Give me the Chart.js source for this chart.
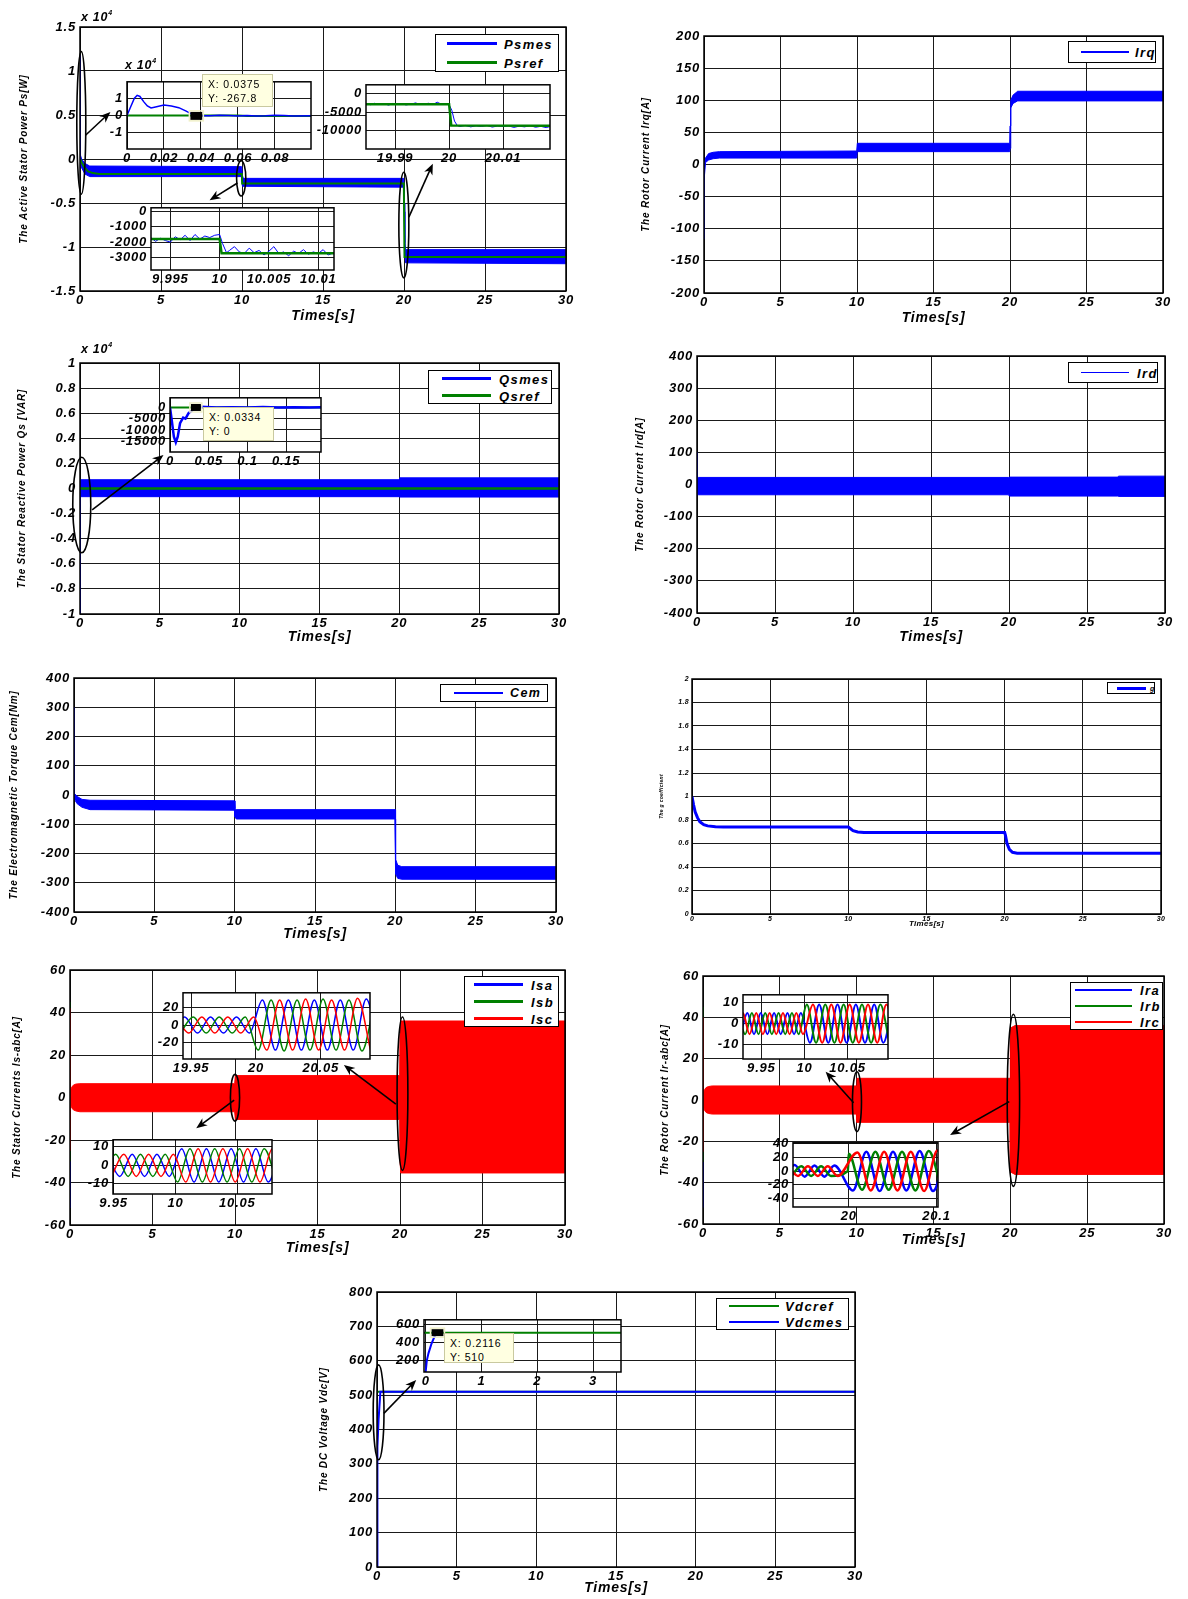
<!DOCTYPE html>
<html><head><meta charset="utf-8">
<script src="https://cdn.jsdelivr.net/npm/chart.js@4.4.1/dist/chart.umd.min.js"></script>
<style>
html,body{margin:0;padding:0;background:#fff}
body{width:1188px;height:1599px;position:relative;overflow:hidden;font-family:'Liberation Sans',Arial,sans-serif}
canvas{position:absolute}
.lg{position:absolute;box-sizing:border-box;border:1.5px solid #000;background:#fff;z-index:3}
.tip{position:absolute;box-sizing:border-box;background:#ffffe1;border:1px solid #c9c9a0;z-index:4;font:10.5px 'Liberation Sans',Arial,sans-serif;letter-spacing:0.8px;line-height:14px;padding:2px 5px;color:#000;white-space:nowrap}
.sc{position:absolute;z-index:4;font:italic bold 12.5px 'Liberation Sans',Arial,sans-serif;letter-spacing:0.7px;white-space:nowrap;color:#000}
.sc sup{font-size:7px;vertical-align:6px}
</style></head><body>
<script>
// ---------------- DATA ----------------
const timeTicks = [0,5,10,15,20,25,30];

// Chart 1 : active stator power (x 10^4 W)
const psTicksY = [-1.5,-1,-0.5,0,0.5,1,1.5];
const psBandT  = [0,0.005,0.012,0.02,0.04,0.1,0.3,0.6,9.98,10.02,10.05,19.98,20.01,20.05,20.1,30];
const psBandHi = [0,1.18,0.6,0.25,0.05,0.0,-0.05,-0.08,-0.087,-0.2,-0.22,-0.22,-0.5,-0.95,-1.03,-1.03];
const psBandLo = [0,-0.01,-0.02,-0.03,-0.05,-0.1,-0.17,-0.2,-0.2,-0.3,-0.31,-0.32,-0.6,-1.1,-1.18,-1.19];
const psRefT = [0,0.1,0.25,0.5,0.8,1.2,9.99,10.01,19.99,20.03,30];
const psRefV = [0,-0.04,-0.09,-0.14,-0.16,-0.17,-0.17,-0.277,-0.277,-1.114,-1.114];
// inset A (0..0.1 s, x 10^4)
const psInA_T = [0,0.002,0.004,0.0055,0.007,0.009,0.011,0.013,0.016,0.02,0.024,0.028,0.032,0.0355,0.0375,0.045,0.05,0.055,0.06,0.065,0.07,0.075,0.08,0.085,0.09,0.0995];
const psInA_V = [0,0.5,1.0,1.16,1.1,0.8,0.55,0.43,0.5,0.6,0.55,0.45,0.25,0.05,-0.027,-0.02,0.01,0.0,-0.03,-0.01,-0.03,-0.02,0.01,-0.01,-0.03,-0.02];
const psInA_RefT = [0,0.06,0.065,0.0995];
const psInA_RefV = [0,0,-0.03,-0.03];
const psInA_TicksX = [0,0.02,0.04,0.06,0.08];
const psInA_TicksY = [-1,0,1];
// inset B (around 20 s, W)
const psInB_T = [19.9846,19.9855,19.9862,19.987,19.988,19.9888,19.9895,19.9905,19.9913,19.992,19.993,19.9938,19.9945,19.9955,19.9962,19.997,19.9978,19.9985,19.9992,20.0,20.0005,20.001,20.0015,20.002,20.003,20.004,20.005,20.006,20.007,20.008,20.009,20.01,20.011,20.012,20.013,20.014,20.015,20.016,20.017,20.018,20.0187];
const psInB_V = [-2700,-3000,-2600,-2900,-2750,-3100,-2650,-2900,-2700,-3050,-2800,-2500,-2900,-2750,-2600,-2950,-2300,-2800,-2700,-3000,-4500,-7500,-8700,-9000,-8700,-9100,-8800,-9000,-8700,-9150,-8850,-9000,-8800,-9250,-8900,-9100,-8700,-9200,-8950,-9300,-9000];
const psInB_RefT = [19.9846,20.0,20.0004,20.0187];
const psInB_RefV = [-2850,-2850,-8700,-8800];
const psInB_TicksX = [19.99,20,20.01];
const psInB_TicksY = [-10000,-5000,0];
// inset C (around 10 s, W)
const psInC_T = [9.993,9.9935,9.994,9.9945,9.995,9.9955,9.996,9.9965,9.997,9.9975,9.998,9.9985,9.999,9.9995,10.0,10.0003,10.0007,10.001,10.0015,10.002,10.0025,10.003,10.0035,10.004,10.0045,10.005,10.0055,10.006,10.0065,10.007,10.0075,10.008,10.0085,10.009,10.0095,10.01,10.0105,10.011,10.0116];
const psInC_V = [-1700,-1950,-1750,-1900,-2000,-1650,-1850,-1550,-1900,-1500,-1800,-1600,-1700,-1550,-1500,-2100,-2700,-2550,-2300,-2650,-2750,-2400,-2700,-2550,-2850,-2600,-2300,-2750,-2650,-2900,-2600,-2750,-2500,-2800,-2650,-2750,-2500,-2850,-2700];
const psInC_RefT = [9.993,10.0,10.0002,10.0116];
const psInC_RefV = [-1800,-1800,-2740,-2740];
const psInC_TicksX = [9.995,10,10.005,10.01];
const psInC_TicksY = [-3000,-2000,-1000,0];

// Chart 2 : Irq
const irqTicksY = [-200,-150,-100,-50,0,50,100,150,200];
const irqBandT  = [0,0.01,0.03,0.1,0.3,0.6,1,9.98,10.02,19.98,20.0,20.05,20.2,20.5,30];
const irqBandHi = [-110,-60,0,10,17,19,20,21,33,33,60,100,108,114,114];
const irqBandLo = [-116,-100,-20,3,7,9,10,10,20,20,25,88,95,99,99];

// Chart 3 : Qs (x 10^4 VAR)
const qsTicksY = [-1,-0.8,-0.6,-0.4,-0.2,0,0.2,0.4,0.6,0.8,1];
const qsBandT  = [0,0.008,0.015,0.025,0.04,19.98,20.02,30];
const qsBandHi = [0,-0.9,-0.4,0.0,0.07,0.07,0.085,0.085];
const qsBandLo = [0,-1.5,-0.8,-0.2,-0.065,-0.065,-0.068,-0.068];
const qsRefT = [0,30];
const qsRefV = [0,0];
const qsInT = [0,0.002,0.005,0.0075,0.01,0.013,0.017,0.02,0.024,0.028,0.033,0.04,0.06,0.08,0.1,0.12,0.14,0.16,0.18,0.195];
const qsInV = [0,-5000,-13000,-15500,-13000,-7000,-4500,-5000,-2500,-1500,0,300,0,100,0,200,0,150,0,100];
const qsInRefT = [0,0.195];
const qsInRefV = [0,0];
const qsInTicksX = [0,0.05,0.1,0.15];
const qsInTicksY = [-15000,-10000,-5000,0];

// Chart 4 : Ird
const irdTicksY = [-400,-300,-200,-100,0,100,200,300,400];
const irdBandT  = [0,0.005,0.02,0.1,19.98,20.02,26.98,27.02,30];
const irdBandHi = [100,60,22,22,22,23,23,26,26];
const irdBandLo = [0,-20,-32,-32,-32,-36,-36,-37,-37];

// Chart 5 : Cem
const cemTicksY = [-400,-300,-200,-100,0,100,200,300,400];
const cemBandT  = [0,0.005,0.02,0.05,0.2,0.5,1,9.98,10.02,10.1,19.98,20.0,20.03,20.15,20.4,30];
const cemBandHi = [0,300,50,5,-5,-15,-18,-20,-45,-50,-50,-120,-220,-240,-245,-245];
const cemBandLo = [0,0,-5,-15,-30,-42,-50,-52,-75,-82,-82,-200,-270,-285,-288,-288];

// Chart 6 : g
const gTicksY = [0,0.2,0.4,0.6,0.8,1,1.2,1.4,1.6,1.8,2];
const gT = [0,0.1,0.2,0.35,0.5,0.75,1,1.5,2,10,10.1,10.3,10.6,11,20,20.05,20.15,20.3,20.5,20.8,21.5,30];
const gV = [1,0.93,0.87,0.82,0.785,0.76,0.75,0.742,0.74,0.74,0.73,0.71,0.698,0.694,0.694,0.67,0.6,0.55,0.525,0.518,0.516,0.516];

// Chart 7 : stator currents
const isTicksY = [-60,-40,-20,0,20,40,60];
const isBandT  = [0,0.03,0.1,0.2,0.35,0.6,9.98,10.02,19.98,20.0,20.05,30];
const isBandHi = [0.5,3,4.8,5.8,6.3,6.5,6.5,10.3,10.3,30,36,36];
const isBandLo = [-0.5,-3,-4.8,-5.8,-6.3,-6.7,-6.7,-10.3,-10.3,-30,-35.5,-35.5];
const isSpikeA = [[0,0],[0.004,-52],[0.01,20],[0.02,0]];
const isSpikeB = [[0,0],[0.006,45],[0.012,-30],[0.02,0]];
const isSpikeC = [[0,0],[0.005,42],[0.01,-25],[0.02,0]];
const isZ20A = [[19.935,-9],[19.945,9],[19.955,-9],[19.965,9],[19.975,-9],[19.985,9],[19.995,-9],[20.005,28],[20.015,-28],[20.025,28],[20.035,-28],[20.045,28],[20.055,-28],[20.065,28],[20.075,-28],[20.085,29],[20.095,-28]];
const isZ20B = [[19.9417,-9],[19.9517,9],[19.9617,-9],[19.9717,9],[19.9817,-9],[19.9917,9],[20.0017,-28],[20.0117,28],[20.0217,-29],[20.0317,28],[20.0417,-28],[20.0517,29],[20.0617,-28],[20.0717,28],[20.0817,-29],[20.0917,28]];
const isZ20C = [[19.9383,9],[19.9483,-9],[19.9583,9],[19.9683,-9],[19.9783,9],[19.9883,-9],[19.9983,9],[20.0083,-28],[20.0183,28],[20.0283,-28],[20.0383,29],[20.0483,-28],[20.0583,28],[20.0683,-28],[20.0783,30],[20.0883,-28]];
const isZ20TicksX = [19.95,20,20.05];
const isZ20TicksY = [-20,0,20];
const isZ10A = [[9.945,6],[9.955,-6],[9.965,6],[9.975,-6],[9.985,6],[9.995,-6],[10.005,9],[10.015,-9],[10.025,9],[10.035,-9],[10.045,9],[10.055,-9],[10.065,9],[10.075,-9],[10.085,9]];
const isZ10B = [[9.9417,-6],[9.9517,6],[9.9617,-6],[9.9717,6],[9.9817,-6],[9.9917,6],[10.0017,-9],[10.0117,9],[10.0217,-9],[10.0317,9],[10.0417,-9],[10.0517,9],[10.0617,-9],[10.0717,9],[10.0817,-9]];
const isZ10C = [[9.9483,-6],[9.9583,6],[9.9683,-6],[9.9783,6],[9.9883,-6],[9.9983,6],[10.0083,-9],[10.0183,9],[10.0283,-9],[10.0383,9],[10.0483,-9],[10.0583,9],[10.0683,-9],[10.0783,9],[10.0883,-9]];
const isZ10TicksX = [9.95,10,10.05];
const isZ10TicksY = [-10,0,10];

// Chart 8 : rotor currents
const irTicksY = [-60,-40,-20,0,20,40,60];
const irBandT  = [0,0.03,0.1,0.2,0.35,0.6,9.98,10.02,19.98,20.0,20.05,20.3,30];
const irBandHi = [0.5,3,5,6,6.5,6.8,6.8,10.5,10.5,30,35,36,36];
const irBandLo = [-0.5,-3,-5,-6,-6.5,-6.8,-6.8,-10.8,-10.8,-33,-35,-36,-36];
const irSpikeA = [[0,0],[0.004,-52],[0.01,20],[0.02,0]];
const irSpikeB = [[0,0],[0.006,45],[0.012,-30],[0.02,0]];
const irSpikeC = [[0,0],[0.005,40],[0.01,-25],[0.02,0]];
const irZ10A = [[9.926,-5],[9.9338,5],[9.9415,-5],[9.9493,5],[9.957,-5],[9.9648,5],[9.9725,-5],[9.9803,5],[9.988,-5],[9.9958,5],[10.0064,-9],[10.0171,9],[10.0277,-9],[10.0384,9],[10.049,-9],[10.0597,9],[10.0703,-9],[10.081,9],[10.0916,-9],[10.1023,9]];
const irZ10B = [[9.9235,5],[9.9312,-5],[9.939,5],[9.9467,-5],[9.9545,5],[9.9622,-5],[9.97,5],[9.9777,-5],[9.9855,5],[9.9932,-5],[10.0028,9],[10.0135,-9],[10.0242,9],[10.0348,-9],[10.0455,9],[10.0561,-9],[10.0668,9],[10.0774,-9],[10.0881,9],[10.0987,-9]];
const irZ10C = [[9.9209,-5],[9.9286,5],[9.9363,-5],[9.9441,5],[9.9518,-5],[9.9596,5],[9.9673,-5],[9.9751,5],[9.9828,-5],[9.9906,5],[9.9983,-5],[10.0099,9],[10.0206,-9],[10.0312,9],[10.0419,-9],[10.0525,9],[10.0632,-9],[10.0738,9],[10.0845,-9],[10.0951,9],[10.1058,-9]];
const irZ10TicksX = [9.95,10,10.05];
const irZ10TicksY = [-10,0,10];
const irZ20A = [[19.9271,-8],[19.9384,9],[19.9497,-8],[19.961,8],[19.9723,-8],[19.9836,8],[20.0049,-28],[20.0201,28],[20.0353,-29],[20.0505,28],[20.0657,-28],[20.0809,29],[20.0961,-29],[20.1113,28]];
const irZ20B = [[19.9346,-7],[19.9459,7],[19.9572,-7],[19.9685,7],[19.9798,-7],[19.999,0],[20.0,25],[20.0152,-27],[20.0304,28],[20.0456,-27],[20.0608,28],[20.076,-28],[20.0912,29],[20.1064,-28]];
const irZ20C = [[19.9309,7],[19.9422,-7],[19.9535,7],[19.9648,-7],[19.9761,7],[19.9874,-7],[20.01,27],[20.0252,-28],[20.0404,28],[20.0556,-28],[20.0708,28],[20.086,-29],[20.1012,30],[20.1164,-28]];
const irZ20TicksX = [20,20.1];
const irZ20TicksY = [-40,-20,0,20,40];

// Chart 9 : DC voltage
const vdcTicksY = [0,100,200,300,400,500,600,700,800];
const vdcMesT = [0,0.001,0.05,0.1,0.2116,30];
const vdcMesV = [0,300,350,430,510,510];
const vdcRefT = [0,30];
const vdcRefV = [510,510];
const vdcInMesT = [0,0.02,0.05,0.1,0.16,0.2116];
const vdcInMesV = [75,200,280,380,470,510];
const vdcInRefT = [-0.03,3.5];
const vdcInRefV = [510,510];
const vdcInTicksX = [0,1,2,3];
const vdcInTicksY = [200,400,600];

// ---------------- HELPERS ----------------
const FONT = "'Liberation Sans', Arial, Helvetica, sans-serif";
const F = (s, w) => ({family: FONT, size: s, style: 'italic', weight: w || 'bold'});
const BLUE = '#0000ff', GREEN = '#008000', RED = '#ff0000';
const fmt = v => String(+Number(v).toFixed(6));
const xy = (t, v) => t.map((x, i) => ({x, y: v[i]}));
const pts = a => a.map(p => ({x: p[0], y: p[1]}));

function line(data, color, w, smooth) {
  return {data, borderColor: color, backgroundColor: color, borderWidth: w, fill: false, pointRadius: 0,
    cubicInterpolationMode: smooth ? 'monotone' : 'default', tension: 0};
}
function band(t, hi, lo, color) {
  return [
    {data: xy(t, hi), borderColor: color, backgroundColor: color, borderWidth: 1, fill: '+1', pointRadius: 0},
    {data: xy(t, lo), borderColor: color, backgroundColor: color, borderWidth: 1, fill: false, pointRadius: 0}
  ];
}
function arrow(ctx, x1, y1, x2, y2) {
  const a = Math.atan2(y2 - y1, x2 - x1), L = 11, W = 4.5;
  ctx.beginPath(); ctx.moveTo(x1, y1); ctx.lineTo(x2 - Math.cos(a) * L * 0.6, y2 - Math.sin(a) * L * 0.6); ctx.stroke();
  ctx.beginPath(); ctx.moveTo(x2, y2);
  ctx.lineTo(x2 - L * Math.cos(a) + W * Math.sin(a), y2 - L * Math.sin(a) - W * Math.cos(a));
  ctx.lineTo(x2 - L * 0.7 * Math.cos(a), y2 - L * 0.7 * Math.sin(a));
  ctx.lineTo(x2 - L * Math.cos(a) - W * Math.sin(a), y2 - L * Math.sin(a) + W * Math.cos(a));
  ctx.closePath(); ctx.fill();
}
function framePlugin(cfg) {
  const ls = (cfg.ls || 0) + 'px';
  return {
    id: 'frame',
    beforeLayout(c) { c.ctx.letterSpacing = ls; },
    beforeDraw(c) {
      c.ctx.letterSpacing = ls;
      const a = c.chartArea, ctx = c.ctx;
      ctx.save(); ctx.fillStyle = '#fff'; ctx.fillRect(a.left, a.top, a.right - a.left, a.bottom - a.top); ctx.restore();
    },
    afterDraw(c) {
      const a = c.chartArea, ctx = c.ctx;
      ctx.save(); ctx.strokeStyle = '#000'; ctx.lineWidth = cfg.bw || 1.5;
      ctx.strokeRect(a.left, a.top, a.right - a.left, a.bottom - a.top); ctx.restore();
      const d = cfg.deco; if (!d) return;
      const X = v => c.scales.x.getPixelForValue(v), Y = v => c.scales.y.getPixelForValue(v);
      ctx.save(); ctx.strokeStyle = '#000'; ctx.fillStyle = '#000'; ctx.lineWidth = 1.6;
      (d.ellipses || []).forEach(e => {
        const cy = (Y(e.y1) + Y(e.y2)) / 2, ry = Math.abs(Y(e.y1) - Y(e.y2)) / 2;
        ctx.beginPath(); ctx.ellipse(X(e.x), cy, e.rx, ry, 0, 0, 2 * Math.PI); ctx.stroke();
      });
      (d.arrows || []).forEach(r => arrow(ctx, X(r.x1), Y(r.y1), X(r.x2), Y(r.y2)));
      (d.markers || []).forEach(m => {
        ctx.fillStyle = '#000'; ctx.fillRect(X(m.x) - m.w / 2, Y(m.y) - m.h / 2, m.w, m.h);
        ctx.strokeStyle = '#f0f0c8'; ctx.lineWidth = 1.5; ctx.strokeRect(X(m.x) - m.w / 2 - 1, Y(m.y) - m.h / 2 - 1, m.w + 2, m.h + 2);
      });
      ctx.restore();
    }
  };
}
function axis(o, horizontal, size) {
  return {
    type: 'linear', min: o.min, max: o.max,
    afterBuildTicks: s => { s.ticks = o.ticks.map(v => ({value: v})); },
    afterFit: s => { if (horizontal) s.height = size; else s.width = size; },
    grid: {color: o.grid || '#1a1a1a', lineWidth: 1, drawTicks: false},
    border: {display: false},
    ticks: {color: '#000', font: o.font, padding: o.pad, autoSkip: false, maxRotation: 0, minRotation: 0, callback: fmt},
    title: o.title ? {display: true, text: o.title, color: '#000', font: o.tfont, padding: 0} : {display: false}
  };
}
function mk(cfg) {
  const [l, t, r, b] = cfg.area, m = cfg.m;
  const W = r - l + m.L + m.R, H = b - t + m.T + m.B;
  const cv = document.createElement('canvas');
  cv.width = W; cv.height = H;
  cv.style.cssText = `left:${l - m.L}px;top:${t - m.T}px;width:${W}px;height:${H}px;z-index:${cfg.inset ? 2 : 1}`;
  document.body.appendChild(cv);
  return new Chart(cv, {
    type: 'line',
    data: {datasets: cfg.datasets},
    options: {
      responsive: false, animation: false, devicePixelRatio: 1, events: [],
      layout: {padding: {top: m.T, right: m.R, left: 0, bottom: 0}, autoPadding: false},
      plugins: {legend: {display: false}, tooltip: {enabled: false}, title: {display: false}},
      scales: {x: axis(cfg.x, true, m.B), y: axis(cfg.y, false, m.L)}
    },
    plugins: [framePlugin(cfg)]
  });
}
function legend(box, entries, o) {
  const [x, y, w, h] = box;
  const d = document.createElement('div'); d.className = 'lg';
  d.style.cssText = `left:${x}px;top:${y}px;width:${w}px;height:${h}px;`;
  entries.forEach((e, i) => {
    const cy = h * (i + 0.5) / entries.length - 1;
    const ln = document.createElement('div');
    ln.style.cssText = `position:absolute;left:${o.lx1 - x}px;width:${o.lx2 - o.lx1}px;top:${cy - e.w / 2}px;height:${e.w}px;background:${e.c}`;
    d.appendChild(ln);
    const tx = document.createElement('div'); tx.textContent = e.t;
    tx.style.cssText = `position:absolute;left:${o.tx - x}px;top:${cy}px;transform:translateY(-50%);font:italic bold ${o.fs}px ${FONT};letter-spacing:${o.ls}px;white-space:nowrap;line-height:1;color:#000`;
    d.appendChild(tx);
  });
  document.body.appendChild(d);
}
function tip(x, y, w, h, lines) {
  const d = document.createElement('div'); d.className = 'tip';
  d.style.cssText = `left:${x}px;top:${y}px;width:${w}px;height:${h}px;`;
  lines.forEach(s => { const p = document.createElement('div'); p.textContent = s; d.appendChild(p); });
  document.body.appendChild(d);
}
function scaleNote(x, y) {
  const d = document.createElement('div'); d.className = 'sc';
  d.style.left = x + 'px'; d.style.top = y + 'px';
  d.innerHTML = 'x 10<sup>4</sup>';
  document.body.appendChild(d);
}
const TT = 'Times[s]';
const insetM = {L: 66, T: 6, R: 20, B: 20};
const IF = F(13);
const TF = F(13);   // main tick font
const XT = F(14);   // x title font
const YT = F(10);   // y title font
const LS = 0.8;

// ---------------- CHART 1 ----------------
mk({area: [80, 27, 566, 291], m: {L: 62, T: 12, R: 14, B: 34}, ls: LS,
  x: {min: 0, max: 30, ticks: timeTicks, font: TF, pad: 2, title: TT, tfont: XT},
  y: {min: -1.5, max: 1.5, ticks: psTicksY, font: TF, pad: 4, title: 'The Active Stator Power Ps[W]', tfont: YT},
  datasets: [line(xy(psRefT, psRefV), GREEN, 2), ...band(psBandT, psBandHi, psBandLo, BLUE)],
  deco: {
    ellipses: [{x: 0.08, y1: 1.22, y2: -0.40, rx: 4.5}, {x: 9.95, y1: -0.02, y2: -0.42, rx: 4.6}, {x: 19.99, y1: -0.15, y2: -1.35, rx: 5}],
    arrows: [{x1: 0.34, y1: 0.27, x2: 1.88, y2: 0.534}, {x1: 9.72, y1: -0.273, x2: 8.0, y2: -0.47}, {x1: 20.3, y1: -0.66, x2: 21.78, y2: -0.053}]
  }
});
mk({area: [127, 76, 311, 149], m: insetM, ls: LS, inset: true,
  x: {min: 0, max: 0.0995, ticks: psInA_TicksX, font: IF, pad: 2},
  y: {min: -1.95, max: 1.95, ticks: psInA_TicksY, font: IF, pad: 4},
  datasets: [line(xy(psInA_T, psInA_V), BLUE, 1.5), line(xy(psInA_RefT, psInA_RefV), GREEN, 2)],
  deco: {markers: [{x: 0.0375, y: -0.0268, w: 12, h: 8}]}
});
mk({area: [366, 79, 550, 149], m: insetM, ls: LS, inset: true,
  x: {min: 19.9846, max: 20.0187, ticks: psInB_TicksX, font: IF, pad: 2},
  y: {min: -15200, max: 2500, ticks: psInB_TicksY, font: IF, pad: 4},
  datasets: [line(xy(psInB_RefT, psInB_RefV), GREEN, 2.5), line(xy(psInB_T, psInB_V), BLUE, 1)]
});
mk({area: [151, 202, 334, 270], m: insetM, ls: LS, inset: true,
  x: {min: 9.99304, max: 10.0116, ticks: psInC_TicksX, font: IF, pad: 2},
  y: {min: -3840, max: 260, ticks: psInC_TicksY, font: IF, pad: 4},
  datasets: [line(xy(psInC_RefT, psInC_RefV), GREEN, 2.5), line(xy(psInC_T, psInC_V), BLUE, 1)]
});
scaleNote(81, 9); scaleNote(125, 57);
tip(202, 74, 71, 33, ['X: 0.0375', 'Y: -267.8']);
legend([435, 34, 124, 38], [{t: 'Psmes', c: BLUE, w: 2.5}, {t: 'Psref', c: GREEN, w: 2.5}], {lx1: 446, lx2: 496, tx: 503, fs: 13, ls: 1.4});

// ---------------- CHART 2 ----------------
mk({area: [704, 36, 1163, 293], m: {L: 64, T: 12, R: 14, B: 34}, ls: LS,
  x: {min: 0, max: 30, ticks: timeTicks, font: TF, pad: 2, title: TT, tfont: XT},
  y: {min: -200, max: 200, ticks: irqTicksY, font: TF, pad: 4, title: 'The Rotor Current Irq[A]', tfont: YT},
  datasets: [...band(irqBandT, irqBandHi, irqBandLo, BLUE)]
});
legend([1068, 41, 88, 22], [{t: 'Irq', c: BLUE, w: 2.5}], {lx1: 1080, lx2: 1128, tx: 1134, fs: 13, ls: 1.4});

// ---------------- CHART 3 ----------------
mk({area: [80, 363, 559, 614], m: {L: 64, T: 12, R: 14, B: 32}, ls: LS,
  x: {min: 0, max: 30, ticks: timeTicks, font: TF, pad: 2, title: TT, tfont: XT},
  y: {min: -1, max: 1, ticks: qsTicksY, font: TF, pad: 4, title: 'The Stator Reactive Power Qs [VAR]', tfont: YT},
  datasets: [line(xy(qsRefT, qsRefV), GREEN, 2.5), ...band(qsBandT, qsBandHi, qsBandLo, BLUE)],
  deco: {ellipses: [{x: 0.11, y1: 0.249, y2: -0.512, rx: 9}], arrows: [{x1: 0.76, y1: -0.171, x2: 5.23, y2: 0.267}]}
});
mk({area: [170, 392, 321, 452], m: insetM, ls: LS, inset: true,
  x: {min: 0, max: 0.195, ticks: qsInTicksX, font: IF, pad: 2},
  y: {min: -19800, max: 4300, ticks: qsInTicksY, font: IF, pad: 4},
  datasets: [line(xy(qsInT, qsInV), BLUE, 2.5), line(xy(qsInRefT, qsInRefV), GREEN, 2)],
  deco: {markers: [{x: 0.0334, y: 0, w: 10, h: 7}]}
});
scaleNote(81, 341);
tip(203, 407, 71, 34, ['X: 0.0334', 'Y: 0']);
legend([428, 370, 124, 34], [{t: 'Qsmes', c: BLUE, w: 2.5}, {t: 'Qsref', c: GREEN, w: 2.5}], {lx1: 441, lx2: 490, tx: 498, fs: 13, ls: 1.4});

// ---------------- CHART 4 ----------------
mk({area: [697, 356, 1165, 613], m: {L: 63, T: 12, R: 14, B: 33}, ls: LS,
  x: {min: 0, max: 30, ticks: timeTicks, font: TF, pad: 2, title: TT, tfont: XT},
  y: {min: -400, max: 400, ticks: irdTicksY, font: TF, pad: 4, title: 'The Rotor Current Ird[A]', tfont: YT},
  datasets: [...band(irdBandT, irdBandHi, irdBandLo, BLUE)]
});
legend([1068, 362, 90, 21], [{t: 'Ird', c: BLUE, w: 1}], {lx1: 1080, lx2: 1128, tx: 1136, fs: 13, ls: 1.4});

// ---------------- CHART 5 ----------------
mk({area: [74, 678, 556, 912], m: {L: 66, T: 12, R: 14, B: 31}, ls: LS,
  x: {min: 0, max: 30, ticks: timeTicks, font: TF, pad: 2, title: TT, tfont: XT},
  y: {min: -400, max: 400, ticks: cemTicksY, font: TF, pad: 4, title: 'The Electromagnetic Torque Cem[Nm]', tfont: YT},
  datasets: [...band(cemBandT, cemBandHi, cemBandLo, BLUE)]
});
legend([440, 684, 108, 18], [{t: 'Cem', c: BLUE, w: 2.5}], {lx1: 453, lx2: 502, tx: 509, fs: 12.5, ls: 1.4});

// ---------------- CHART 6 ----------------
mk({area: [692, 679, 1161, 914], m: {L: 33, T: 10, R: 10, B: 15}, ls: 0.3,
  x: {min: 0, max: 30, ticks: timeTicks, font: F(7), pad: 1, title: TT, tfont: F(8)},
  y: {min: 0, max: 2, ticks: gTicksY, font: F(7), pad: 3, title: 'The g coefficient', tfont: F(5)},
  datasets: [line(xy(gT, gV), BLUE, 3)]
});
legend([1107, 682, 48, 12], [{t: 'g', c: BLUE, w: 3}], {lx1: 1116, lx2: 1145, tx: 1149, fs: 7, ls: 0.3});

// ---------------- CHART 7 ----------------
mk({area: [70, 970, 565, 1225], m: {L: 59, T: 12, R: 14, B: 32}, ls: LS,
  x: {min: 0, max: 30, ticks: timeTicks, font: TF, pad: 2, title: TT, tfont: XT},
  y: {min: -60, max: 60, ticks: isTicksY, font: TF, pad: 4, title: 'The Stator Currents Is-abc[A]', tfont: YT},
  datasets: [line(pts(isSpikeC), RED, 1.5), line(pts(isSpikeB), GREEN, 1.5), line(pts(isSpikeA), BLUE, 1.5), ...band(isBandT, isBandHi, isBandLo, RED)],
  deco: {
    ellipses: [{x: 10.0, y1: 10.9, y2: -11.1, rx: 4.6}, {x: 20.15, y1: 37.9, y2: -34.3, rx: 5.4}],
    arrows: [{x1: 9.95, y1: -1.2, x2: 7.65, y2: -14.5}, {x1: 19.75, y1: -3.1, x2: 16.6, y2: 15.3}]
  }
});
mk({area: [183, 987, 370, 1059], m: insetM, ls: LS, inset: true,
  x: {min: 19.9438, max: 20.0879, ticks: isZ20TicksX, font: IF, pad: 2},
  y: {min: -38, max: 36, ticks: isZ20TicksY, font: IF, pad: 4},
  datasets: [line(pts(isZ20C), RED, 1.5, true), line(pts(isZ20B), GREEN, 1.5, true), line(pts(isZ20A), BLUE, 1.5, true)]
});
mk({area: [113, 1134, 272, 1194], m: insetM, ls: LS, inset: true,
  x: {min: 9.9495, max: 10.078, ticks: isZ10TicksX, font: IF, pad: 2},
  y: {min: -15.5, max: 13.8, ticks: isZ10TicksY, font: IF, pad: 4},
  datasets: [line(pts(isZ10C), RED, 1.5, true), line(pts(isZ10B), GREEN, 1.5, true), line(pts(isZ10A), BLUE, 1.5, true)]
});
legend([464, 976, 95, 51], [{t: 'Isa', c: BLUE, w: 2.5}, {t: 'Isb', c: GREEN, w: 2.5}, {t: 'Isc', c: RED, w: 2.5}], {lx1: 473, lx2: 522, tx: 530, fs: 13, ls: 1.4});

// ---------------- CHART 8 ----------------
mk({area: [703, 976, 1164, 1224], m: {L: 44, T: 12, R: 14, B: 25}, ls: LS,
  x: {min: 0, max: 30, ticks: timeTicks, font: TF, pad: 2, title: TT, tfont: XT},
  y: {min: -60, max: 60, ticks: irTicksY, font: TF, pad: 4, title: 'The Rotor Current Ir-abc[A]', tfont: YT},
  datasets: [line(pts(irSpikeC), RED, 1.5), line(pts(irSpikeB), GREEN, 1.5), line(pts(irSpikeA), BLUE, 1.5), ...band(irBandT, irBandHi, irBandLo, RED)],
  deco: {
    ellipses: [{x: 10.02, y1: 13.7, y2: -15.3, rx: 4.5}, {x: 20.2, y1: 41.5, y2: -41.8, rx: 6.2}],
    arrows: [{x1: 9.8, y1: -1.3, x2: 7.98, y2: 13.7}, {x1: 19.93, y1: -0.8, x2: 16.08, y2: -16.9}]
  }
});
mk({area: [743, 989, 888, 1059], m: insetM, ls: LS, inset: true,
  x: {min: 9.9287, max: 10.097, ticks: irZ10TicksX, font: IF, pad: 2},
  y: {min: -16.7, max: 13.6, ticks: irZ10TicksY, font: IF, pad: 4},
  datasets: [line(pts(irZ10C), RED, 2, true), line(pts(irZ10B), GREEN, 2, true), line(pts(irZ10A), BLUE, 2, true)]
});
mk({area: [793, 1137, 938, 1207], m: insetM, ls: LS, inset: true,
  x: {min: 19.9365, max: 20.1018, ticks: irZ20TicksX, font: IF, pad: 2},
  y: {min: -52, max: 41, ticks: irZ20TicksY, font: IF, pad: 4},
  datasets: [line(pts(irZ20C), RED, 2.5, true), line(pts(irZ20B), GREEN, 2.5, true), line(pts(irZ20A), BLUE, 2.5, true)]
});
legend([1070, 982, 93, 48], [{t: 'Ira', c: BLUE, w: 2.5}, {t: 'Irb', c: GREEN, w: 2.5}, {t: 'Irc', c: RED, w: 2.5}], {lx1: 1074, lx2: 1131, tx: 1139, fs: 13, ls: 1.4});

// ---------------- CHART 9 ----------------
mk({area: [377, 1292, 855, 1567], m: {L: 59, T: 12, R: 14, B: 30}, ls: LS,
  x: {min: 0, max: 30, ticks: timeTicks, font: TF, pad: 2, title: TT, tfont: XT},
  y: {min: 0, max: 800, ticks: vdcTicksY, font: TF, pad: 4, title: 'The DC Voltage Vdc[V]', tfont: YT},
  datasets: [line(xy(vdcMesT, vdcMesV), BLUE, 2), line(xy(vdcRefT, vdcRefV), GREEN, 2)],
  deco: {ellipses: [{x: 0.1, y1: 588, y2: 312, rx: 5.4}], arrows: [{x1: 0.43, y1: 447, x2: 2.46, y2: 544}]}
});
mk({area: [424, 1314, 621, 1372], m: insetM, ls: LS, inset: true,
  x: {min: -0.03, max: 3.5, ticks: vdcInTicksX, font: IF, pad: 2},
  y: {min: 73, max: 653, ticks: vdcInTicksY, font: IF, pad: 4},
  datasets: [line(xy(vdcInRefT, vdcInRefV), GREEN, 2), line(xy(vdcInMesT, vdcInMesV), BLUE, 2)],
  deco: {markers: [{x: 0.2116, y: 510, w: 12, h: 7}]}
});
tip(444, 1333, 70, 30, ['X: 0.2116', 'Y: 510']);
legend([716, 1298, 133, 32], [{t: 'Vdcref', c: GREEN, w: 2.5}, {t: 'Vdcmes', c: BLUE, w: 2.5}], {lx1: 728, lx2: 778, tx: 784, fs: 13, ls: 1.4});
</script>
</body></html>
